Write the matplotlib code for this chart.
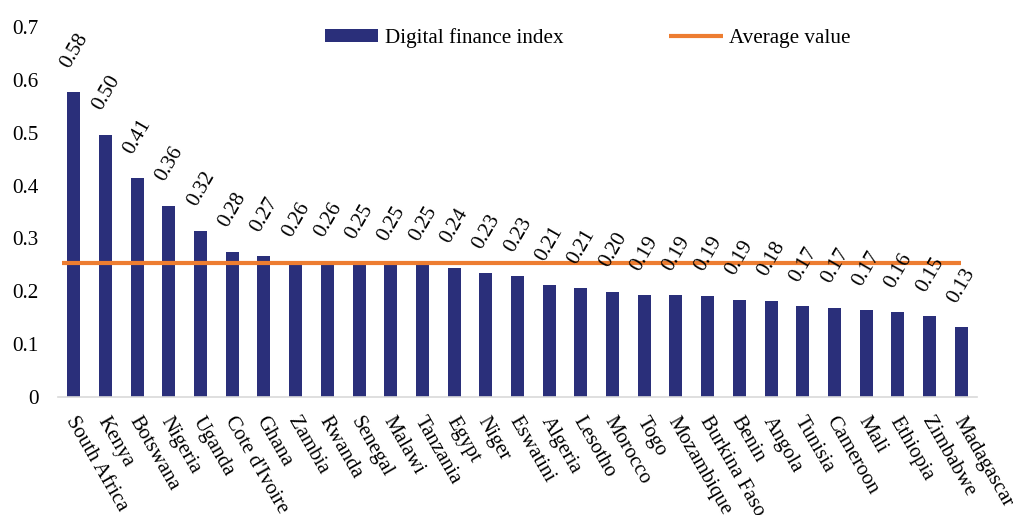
import matplotlib
matplotlib.use("Agg")
import matplotlib.pyplot as plt
import numpy as np

plt.rcParams['font.family'] = ['Liberation Serif', 'DejaVu Serif']

countries = ["South Africa", "Kenya", "Botswana", "Nigeria", "Uganda", "Cote d'Ivoire",
             "Ghana", "Zambia", "Rwanda", "Senegal", "Malawi", "Tanzania", "Egypt",
             "Niger", "Eswatini", "Algeria", "Lesotho", "Morocco", "Togo", "Mozambique",
             "Burkina Faso", "Benin", "Angola", "Tunisia", "Cameroon", "Mali",
             "Ethiopia", "Zimbabwe", "Madagascar"]
index_values = [0.577, 0.496, 0.414, 0.362, 0.315, 0.275, 0.266, 0.257, 0.257, 0.252,
                0.250, 0.250, 0.245, 0.234, 0.228, 0.211, 0.206, 0.199, 0.193, 0.193,
                0.192, 0.184, 0.182, 0.172, 0.169, 0.164, 0.160, 0.153, 0.132]
value_labels = ["0.58", "0.50", "0.41", "0.36", "0.32", "0.28", "0.27", "0.26", "0.26",
                "0.25", "0.25", "0.25", "0.24", "0.23", "0.23", "0.21", "0.21", "0.20",
                "0.19", "0.19", "0.19", "0.19", "0.18", "0.17", "0.17", "0.17", "0.16",
                "0.15", "0.13"]
average_value = 0.253
y_ticks = [0, 0.1, 0.2, 0.3, 0.4, 0.5, 0.6, 0.7]
y_tick_labels = ["0", "0.1", "0.2", "0.3", "0.4", "0.5", "0.6", "0.7"]

FS = 15.2
fig = plt.figure(figsize=(10.13, 5.15), dpi=100)
ax = fig.add_axes([58/1013, 1-397/515, (977-58)/1013, (397-27)/515])

x = np.arange(len(countries))
bars = ax.bar(x, index_values, width=0.41, color='#2A2F7A', label='Digital finance index', zorder=2)
avg_line, = ax.plot([x[0] - 0.38, x[-1]], [average_value, average_value], color='#ED7D31',
                    lw=3, label='Average value', zorder=3, solid_capstyle='butt')

for xi, v, lab in zip(x, index_values, value_labels):
    ax.annotate(lab, (xi, v), xytext=(0.5, 15), textcoords='offset points',
                ha='center', va='bottom', rotation=60, fontsize=FS)

ax.set_xlim(-0.5, len(countries) - 0.5)
ax.set_ylim(0, 0.7)
ax.set_yticks(y_ticks)
ax.set_yticklabels(y_tick_labels, fontsize=FS)
ax.set_xticks(x)
ax.set_xticklabels([])
# category labels, anchored at each category position below the axis
for xi, name in zip(x, countries):
    ax.annotate(name, (xi, 0), xycoords=('data', 'axes fraction'),
                xytext=(-2.8, -15.0), textcoords='offset points',
                ha='left', va='center', rotation=-60, rotation_mode='anchor',
                fontsize=15, annotation_clip=False)
ax.tick_params(axis='y', length=0, pad=14)
ax.tick_params(axis='x', length=0)
for s in ['top', 'right', 'left']:
    ax.spines[s].set_visible(False)
ax.spines['bottom'].set_color('#D9D9D9')
ax.spines['bottom'].set_linewidth(1.2)

fig.legend(handles=[bars, avg_line], loc='center', bbox_to_anchor=(0.58, 0.926), ncol=2,
           frameon=False, fontsize=FS, handlelength=2.55, handletextpad=0.3,
           columnspacing=5.0, handleheight=0.55)

fig.savefig('out.png', dpi=100)
